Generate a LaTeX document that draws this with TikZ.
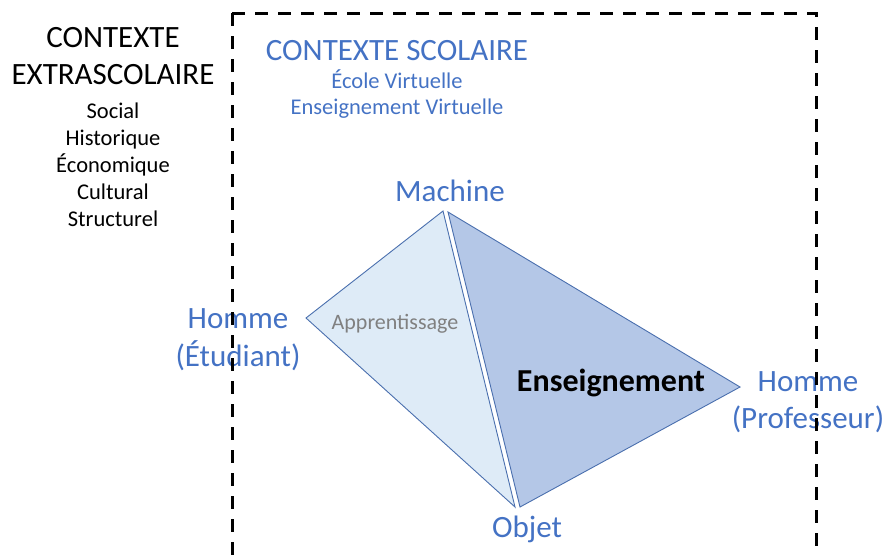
\documentclass[tikz,border=0pt]{standalone}
\usepackage{fontspec}
\setmainfont{Carlito}
\definecolor{txtblue}{HTML}{4472C4}
\definecolor{edgeblue}{HTML}{4A6FAE}
\definecolor{lightfill}{HTML}{DEEBF7}
\definecolor{darkfill}{HTML}{B4C7E7}
\definecolor{graytxt}{HTML}{808080}
\begin{document}
\begin{tikzpicture}[x=1pt,y=-1pt,
  lbl/.style={inner sep=0pt, anchor=base},
  big/.style={lbl, font=\fontsize{31}{37}\selectfont},
  small/.style={lbl, font=\fontsize{22.5}{27}\selectfont},
  blue/.style={text=txtblue},
  tri/.style={draw=edgeblue, line width=0.9pt, line join=miter},
  frame/.style={draw=black, line width=3pt, dash pattern=on 13pt off 10pt}]
\useasboundingbox (0,0) rectangle (885,555);

% triangles
\coordinate (m1) at (443,211);
\coordinate (e) at (306,318);
\coordinate (o1) at (515,507);
\coordinate (m2) at (448,212);
\coordinate (p) at (740,387);
\coordinate (o2) at (520,507);
\draw[tri, fill=lightfill] (m1) -- (e) -- (o1) -- cycle;
\draw[tri, fill=darkfill] (m2) -- (p) -- (o2) -- cycle;

% extrascolaire
\node[big] (ce1) at (113,47) {CONTEXTE};
\node[big] (ce2) at (113,84) {EXTRASCOLAIRE};
\node[small] (s1) at (113,118) {Social};
\node[small] (s2) at (113,145) {Historique};
\node[small] (s3) at (113,172) {Économique};
\node[small] (s4) at (113,199) {Cultural};
\node[small] (s5) at (113,226) {Structurel};

% scolaire
\node[big, blue] (cs) at (397,60) {CONTEXTE SCOLAIRE};
\node[small, blue] (ev) at (397,88) {École Virtuelle};
\node[small, blue] (env) at (397,114) {Enseignement Virtuelle};

% vertices labels
\node[big, blue] (mach) at (450,201) {Machine};
\node[big, blue] (he1) at (238,328) {Homme};
\node[big, blue] (he2) at (238,366) {(Étudiant)};
\node[big, blue] (hp1) at (808,391) {Homme};
\node[big, blue] (hp2) at (808,428) {(Professeur)};
\node[big, blue] (obj) at (527,537) {Objet};

% inner labels
\node[lbl, font=\fontsize{22}{27}\selectfont, text=graytxt] (app) at (395,329) {Apprentissage};
\node[lbl, font=\fontsize{32}{38}\selectfont\bfseries] (ens) at (611,391) {Enseignement};

% dashed frame
\coordinate (c1) at (232,13);
\coordinate (c2) at (816,13);
\coordinate (b1) at (232,556);
\coordinate (b2) at (816,556);
\draw[frame] (c1) -- (b1);
\draw[frame] (c1) -- (c2) -- (b2);
\end{tikzpicture}
\end{document}
